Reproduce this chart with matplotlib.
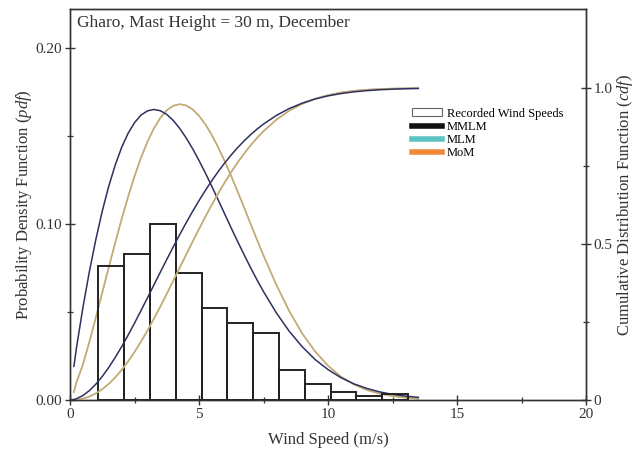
import matplotlib
matplotlib.use("Agg")
import matplotlib.pyplot as plt
from matplotlib.patches import Patch
from matplotlib.lines import Line2D
from matplotlib.ticker import FixedLocator

plt.rcParams["font.family"] = ["Liberation Serif", "DejaVu Serif"]
plt.rcParams["mathtext.fontset"] = "custom"
plt.rcParams["mathtext.rm"] = "Liberation Serif"
plt.rcParams["mathtext.it"] = "Liberation Serif:italic"

# recorded wind speeds, 1 m/s bins (left edges)
bin_left = [1.1, 2.1, 3.1, 4.1, 5.1, 6.1, 7.1, 8.1, 9.1, 10.1, 11.1, 12.1]
bin_pdf = [0.076, 0.083, 0.100, 0.072, 0.052, 0.044, 0.038, 0.017, 0.009,
           0.0044, 0.0022, 0.0034]

# fitted Weibull curves, sampled along wind speed
speed = [0.15, 0.25, 0.5, 0.75, 1.0, 1.25, 1.5, 1.75, 2.0, 2.25, 2.5, 2.75,
         3.0, 3.25, 3.5, 3.75, 4.0, 4.25, 4.5, 4.75, 5.0, 5.25, 5.5, 5.75,
         6.0, 6.25, 6.5, 6.75, 7.0, 7.25, 7.5, 8.0, 8.5, 9.0, 9.5, 10.0,
         10.5, 11.0, 11.5, 12.0, 12.5, 13.0, 13.5]

mmlm_pdf = [0.0191, 0.0296, 0.0525, 0.0729, 0.0911, 0.1073, 0.1214, 0.1334,
            0.1435, 0.1515, 0.1576, 0.1619, 0.1643, 0.1651, 0.1644, 0.1623,
            0.1589, 0.1544, 0.1490, 0.1429, 0.1361, 0.1289, 0.1213, 0.1135,
            0.1056, 0.0977, 0.0900, 0.0825, 0.0752, 0.0682, 0.0616, 0.0495,
            0.0390, 0.0303, 0.0230, 0.0173, 0.0127, 0.0092, 0.0066, 0.0046,
            0.0032, 0.0022, 0.0015]
mmlm_cdf = [0.0016, 0.0040, 0.0143, 0.0300, 0.0506, 0.0754, 0.1041, 0.1359,
            0.1706, 0.2075, 0.2462, 0.2862, 0.3269, 0.3682, 0.4094, 0.4503,
            0.4904, 0.5296, 0.5676, 0.6040, 0.6389, 0.6720, 0.7033, 0.7327,
            0.7601, 0.7855, 0.8090, 0.8305, 0.8502, 0.8681, 0.8843, 0.9120,
            0.9341, 0.9513, 0.9646, 0.9746, 0.9820, 0.9875, 0.9914, 0.9942,
            0.9961, 0.9974, 0.9983]

mom_pdf = [0.0045, 0.0100, 0.0201, 0.0330, 0.0468, 0.0610, 0.0753, 0.0893,
           0.1027, 0.1154, 0.1271, 0.1376, 0.1467, 0.1543, 0.1603, 0.1646,
           0.1672, 0.1681, 0.1674, 0.1652, 0.1615, 0.1566, 0.1505, 0.1434,
           0.1356, 0.1272, 0.1184, 0.1093, 0.1001, 0.0910, 0.0821, 0.0654,
           0.0505, 0.0378, 0.0276, 0.0195, 0.0133, 0.0089, 0.0057, 0.0036,
           0.0022, 0.0013, 0.0007]
mom_cdf = [0.0003, 0.0009, 0.0045, 0.0110, 0.0210, 0.0345, 0.0515, 0.0721,
           0.0961, 0.1233, 0.1537, 0.1868, 0.2224, 0.2601, 0.2994, 0.3401,
           0.3816, 0.4235, 0.4655, 0.5070, 0.5479, 0.5877, 0.6261, 0.6629,
           0.6978, 0.7307, 0.7613, 0.7898, 0.8160, 0.8399, 0.8615, 0.8983,
           0.9272, 0.9492, 0.9654, 0.9771, 0.9852, 0.9907, 0.9943, 0.9966,
           0.9980, 0.9989, 0.9994]

# MLM and MoM give practically the same fit
mlm_pdf = list(mom_pdf)
mlm_cdf = list(mom_cdf)

cdf_speed = [0.0] + speed
navy = "#2e3060"
tan = "#d8a868"
cyan = "#5cc4c4"
ink = "#333333"

fig = plt.figure(figsize=(6.44, 4.55), dpi=100)
ax = fig.add_axes([70 / 644, 55 / 455, 516 / 644, 391 / 455])
ax2 = ax.twinx()

ax.bar(bin_left, bin_pdf, width=1.0, align="edge", facecolor="none",
       edgecolor="#222222", linewidth=1.4, zorder=3)

ax.plot(speed, mlm_pdf, color=cyan, lw=1.0, zorder=2)
ax.plot(speed, mom_pdf, color=tan, lw=1.2, alpha=0.9, zorder=2)
ax.plot(speed, mmlm_pdf, color=navy, lw=1.1, zorder=2)

ax2.plot(cdf_speed, [0.0] + mlm_cdf, color=cyan, lw=1.0)
ax2.plot(cdf_speed, [0.0] + mom_cdf, color=tan, lw=1.2, alpha=0.9)
ax2.plot(cdf_speed, [0.0] + mmlm_cdf, color=navy, lw=1.1)

ax.set_xlim(0, 20)
ax.set_ylim(0, 0.2222)
ax2.set_ylim(0, 1.253)

ax.xaxis.set_major_locator(FixedLocator([0, 5, 10, 15, 20]))
ax.xaxis.set_minor_locator(FixedLocator([2.5, 7.5, 12.5, 17.5]))
ax.yaxis.set_major_locator(FixedLocator([0.0, 0.1, 0.2]))
ax.yaxis.set_minor_locator(FixedLocator([0.05, 0.15]))
ax.set_yticklabels(["0.00", "0.10", "0.20"])
ax2.yaxis.set_major_locator(FixedLocator([0.0, 0.5, 1.0]))
ax2.yaxis.set_minor_locator(FixedLocator([0.25, 0.75]))
ax2.set_yticklabels(["0", "0.5", "1.0"])

for a in (ax, ax2):
    for s in a.spines.values():
        s.set_color(ink)
        s.set_linewidth(1.0)
    a.tick_params(which="major", direction="inout", length=7, width=1.0,
                  colors=ink, labelsize=11, pad=2)
    a.tick_params(which="minor", direction="inout", length=4, width=0.9,
                  colors=ink)

ax.set_xlabel("Wind Speed (m/s)", fontsize=12, color=ink, labelpad=8)
ax.set_ylabel(r"Probability Density Function ($\mathit{pdf}$)", fontsize=12,
              color=ink, labelpad=1)
ax2.set_ylabel(r"Cumulative Distribution Function ($\mathit{cdf}$)",
               fontsize=12, color=ink, labelpad=2)

ax.text(0.014, 0.985, "Gharo, Mast Height = 30 m, December", transform=ax.transAxes,
        ha="left", va="top", fontsize=12.5, color=ink)

handles = [
    Patch(facecolor="white", edgecolor="#666666", linewidth=0.8),
    Line2D([], [], color="#111111", lw=4),
    Line2D([], [], color=cyan, lw=4),
    Line2D([], [], color="#f08a3a", lw=4),
]
labels = ["Recorded Wind Speeds", "MMLM", "MLM", "MoM"]
ax2.legend(handles, labels, loc="upper left", bbox_to_anchor=(0.662, 0.748),
           frameon=False, fontsize=9, handlelength=2.4, handleheight=0.6,
           handletextpad=0.4, labelspacing=0.1, borderpad=0,
           borderaxespad=0)

fig.savefig("out.png", dpi=100)
